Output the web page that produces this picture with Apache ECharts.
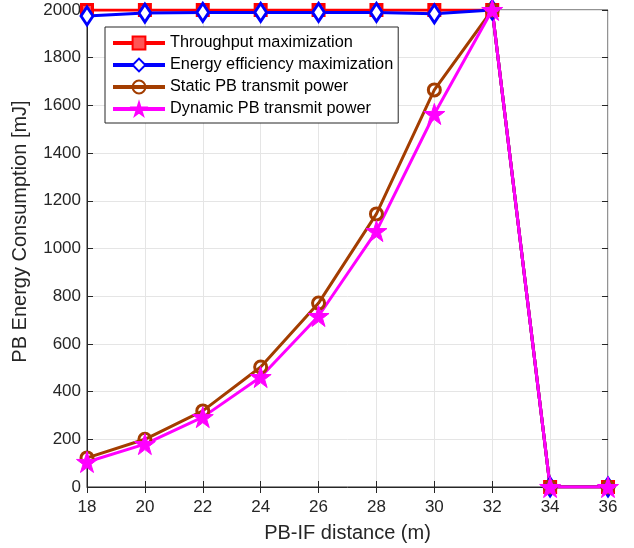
<!DOCTYPE html>
<html>
<head>
<meta charset="utf-8">
<script src="https://cdn.jsdelivr.net/npm/echarts@6/dist/echarts.min.js"></script>
<style>
  html, body { margin: 0; padding: 0; background: #fff; }
  #chart { width: 634px; height: 548px; }
</style>
</head>
<body>
<div id="chart"></div>
<script>
// x values: PB-IF distance (m)
const distances = [18, 20, 22, 24, 26, 28, 30, 32, 34, 36];

// PB energy consumption [mJ]
const throughputMax = [2000, 2000, 2000, 2000, 2000, 2000, 2000, 2000, 0, 0];
const energyEffMax = [1975, 1987, 1990, 1990, 1990, 1990, 1984, 2000, 0, 0];
const staticPower = [122, 200, 319, 503, 771, 1145, 1665, 2000, 0, 0];
const dynamicPower = [105, 180, 293, 461, 717, 1073, 1564, 2000, 0, 0];

const seriesNames = [
  'Throughput maximization',
  'Energy efficiency maximization',
  'Static PB transmit power',
  'Dynamic PB transmit power'
];

const star = 'path://M50,0 L61.8,36.2 L100,36.2 L69.1,58.6 L80.9,95.1 L50,72.7 L19.1,95.1 L30.9,58.6 L0,36.2 L38.2,36.2 Z';

function pairs(vals) {
  return distances.map((d, i) => [d, vals[i]]);
}

const chart = echarts.init(document.getElementById('chart'));

const font = 'Liberation Sans, Arial, sans-serif';
const ink = '#262626';

const option = {
  animation: false,
  grid: { left: 87, right: 26, top: 10, bottom: 61, show: true, borderColor: ink, borderWidth: 1 },
  legend: {
    left: 105, top: 27, orient: 'vertical',
    backgroundColor: '#fff', borderColor: ink, borderWidth: 1,
    padding: [8, 5, 6, 6], itemGap: 6, itemWidth: 52, itemHeight: 16,
    textStyle: { fontFamily: font, fontSize: 16.3, color: '#000' },
    lineStyle: { width: 4 },
    data: seriesNames
  },
  xAxis: [{
    type: 'value', min: 18, max: 36, interval: 2,
    name: 'PB-IF distance (m)', nameLocation: 'middle', nameGap: 36,
    nameTextStyle: { fontFamily: font, fontSize: 20, color: ink },
    axisLine: { lineStyle: { color: ink } },
    axisTick: { inside: true, length: 6, lineStyle: { color: ink } },
    axisLabel: { fontFamily: font, fontSize: 17, color: ink, margin: 12 },
    splitLine: { show: true, lineStyle: { color: '#e5e5e5' } }
  }, {
    type: 'value', min: 18, max: 36, interval: 2, position: 'top',
    axisLine: { show: false },
    axisTick: { inside: true, length: 6, lineStyle: { color: ink } },
    axisLabel: { show: false }, splitLine: { show: false }
  }],
  yAxis: [{
    type: 'value', min: 0, max: 2000, interval: 200,
    name: 'PB Energy Consumption [mJ]', nameLocation: 'middle', nameGap: 57,
    nameTextStyle: { fontFamily: font, fontSize: 20, color: ink, padding: [0, 0, 0, 34] },
    axisLine: { show: true, lineStyle: { color: ink } },
    axisTick: { show: true, inside: true, length: 6, lineStyle: { color: ink } },
    axisLabel: { fontFamily: font, fontSize: 17, color: ink, margin: 6, formatter: v => String(v) },
    splitLine: { show: true, lineStyle: { color: '#e5e5e5' } }
  }, {
    type: 'value', min: 0, max: 2000, interval: 200, position: 'right',
    axisLine: { show: false },
    axisTick: { show: true, inside: true, length: 6, lineStyle: { color: ink } },
    axisLabel: { show: false }, splitLine: { show: false }
  }],
  series: [
    {
      name: seriesNames[0], type: 'line', data: pairs(throughputMax),
      color: '#ff0000', lineStyle: { width: 3, color: '#ff0000' },
      symbol: 'rect', symbolSize: 11, showAllSymbol: true,
      itemStyle: { color: '#ff5555', borderColor: '#ff0000', borderWidth: 3 }
    },
    {
      name: seriesNames[1], type: 'line', data: pairs(energyEffMax),
      color: '#0000ff', lineStyle: { width: 3, color: '#0000ff' },
      symbol: 'diamond', symbolSize: [12, 18], showAllSymbol: true,
      itemStyle: { color: '#fff', borderColor: '#0000ff', borderWidth: 3 }
    },
    {
      name: seriesNames[2], type: 'line', data: pairs(staticPower),
      color: '#a33d00', lineStyle: { width: 3, color: '#a33d00' },
      symbol: 'circle', symbolSize: 12, showAllSymbol: true,
      itemStyle: { color: 'rgba(255,255,255,0)', borderColor: '#a33d00', borderWidth: 3 }
    },
    {
      name: seriesNames[3], type: 'line', data: pairs(dynamicPower),
      color: '#ff00ff', lineStyle: { width: 3, color: '#ff00ff' },
      symbol: star, symbolSize: 21, showAllSymbol: true,
      itemStyle: { color: '#ff00ff', borderColor: '#ff00ff', borderWidth: 1 }
    }
  ]
};

chart.setOption(option);
</script>
</body>
</html>
